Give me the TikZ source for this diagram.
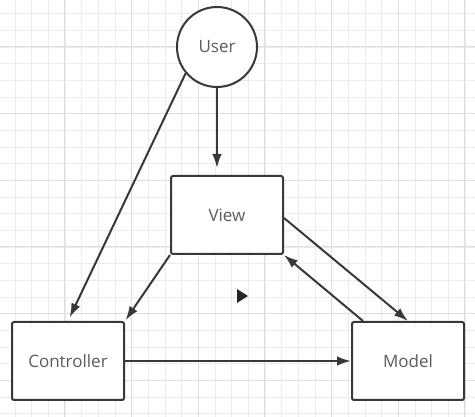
\documentclass[tikz,border=0pt]{standalone}
\usepackage{fontspec}
\setmainfont{Open Sans}
\usepackage{tikz}
\usetikzlibrary{arrows.meta}
\definecolor{linegray}{HTML}{383838}
\definecolor{textgray}{HTML}{5C5C5C}
\definecolor{gridminor}{HTML}{ECECEC}
\definecolor{gridmajor}{HTML}{DEDEDE}
\tikzset{%
  >={Latex[length=14pt,width=9.5pt]},
  block/.style={draw=linegray,line width=2pt,rounded corners=2pt,fill=white,
    minimum width=112pt,minimum height=78pt,inner sep=0pt,
    text=textgray,font=\fontsize{17}{20}\selectfont},
  actor/.style={draw=linegray,line width=2pt,circle,fill=white,
    minimum size=80pt,inner sep=0pt,text=textgray,font=\fontsize{17}{20}\selectfont},
  link/.style={->,draw=linegray,line width=2pt}
}
\begin{document}
\begin{tikzpicture}[x=1pt,y=-1pt]
\useasboundingbox (0,0) rectangle (475,417);
\fill[white] (0,0) rectangle (475,417);

% grid
\foreach \i in {0,...,28} {
  \draw[gridminor,line width=0.8pt] ({15+16.67*(\i-1)},0) -- ++(0,417);
  \draw[gridminor,line width=0.8pt] (0,{13.7+16.67*(\i-1)}) -- ++(475,0);
}
\foreach \i in {0,...,7} {
  \draw[gridmajor,line width=1pt] ({-2+66.7*\i},0) -- ++(0,417);
  \draw[gridmajor,line width=1pt] (0,{-20+66.7*\i}) -- ++(475,0);
}

\node[actor] (user) at (217,47) {User};
\node[block] (view) at (227,215) {View};
\node[block] (ctrl) at (68,361) {Controller};
\node[block] (model) at (408,361) {Model};

\draw[link,shorten >=7pt] (user.south) -- (user.south |- view.north);
\draw[link,shorten >=4pt] (user.220) -- (ctrl.north);
\draw[link,shorten >=1pt] (view.south west) -- (ctrl.north east);
\draw[link] ([yshift=-3pt]view.east) -- (model.north);
\draw[link] ([xshift=-45pt]model.north) -- (view.south east);
\draw[link] (ctrl.east) -- (model.west);

\fill[black!85] (237,289) -- (248,296) -- (237,303) -- cycle;
\end{tikzpicture}
\end{document}
